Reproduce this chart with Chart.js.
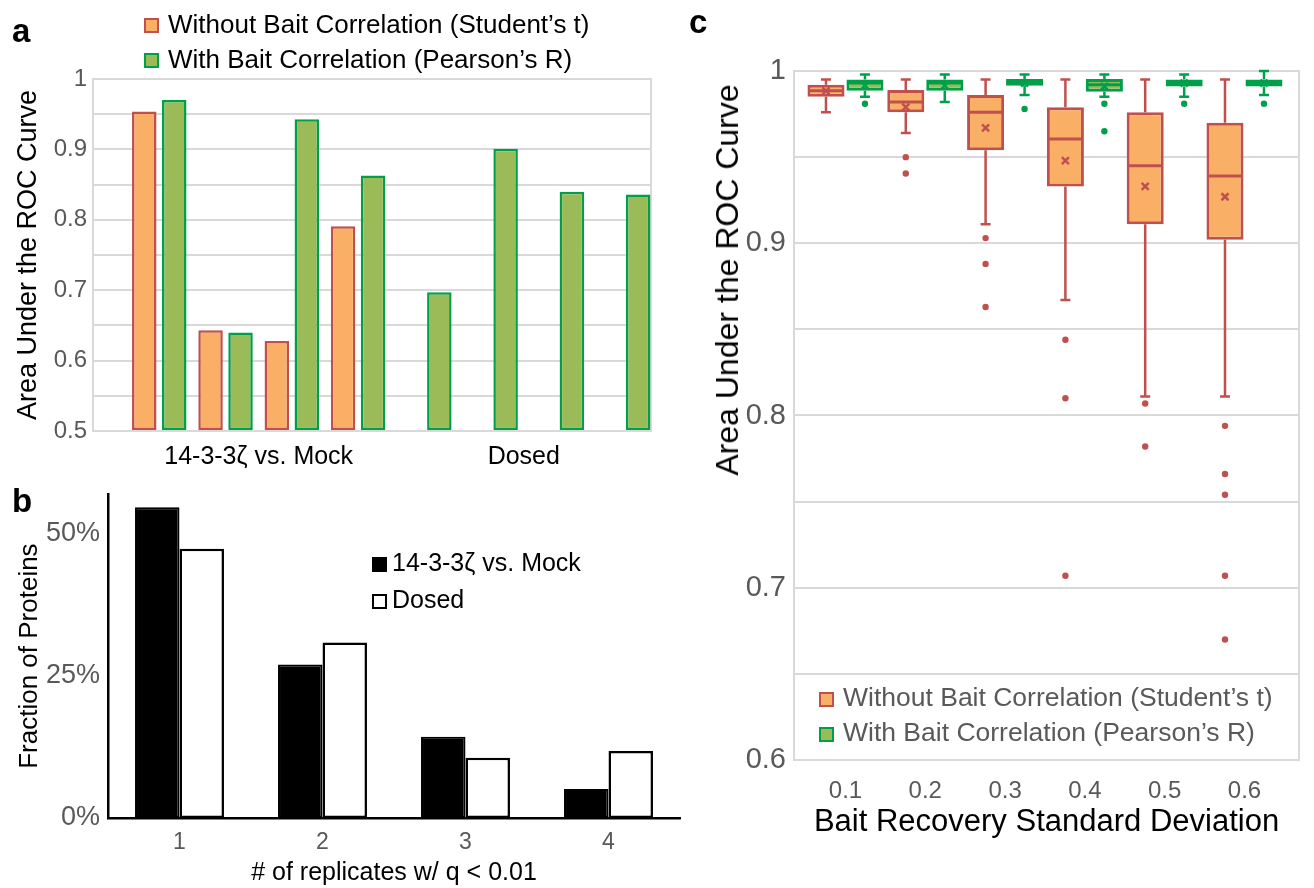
<!DOCTYPE html>
<html>
<head>
<meta charset="utf-8">
<script src="https://cdn.jsdelivr.net/npm/chart.js@4.4.1/dist/chart.umd.min.js"></script>
<style>
    html, body { margin:0; padding:0; background:#fff; }
    body { width:1314px; height:888px; position:relative; overflow:hidden; font-family:"Liberation Sans", Arial, Helvetica, sans-serif; }
    .lienzo { position:absolute; }
    .txt { position:absolute; white-space:nowrap; line-height:1; }
    .cuadro { position:absolute; box-sizing:border-box; }
    .letra { position:absolute; font-weight:bold; font-size:33px; line-height:1; color:#000; }
</style>
</head>
<body>

<div class="lienzo" style="left:0;top:0;width:680px;height:480px"><canvas id="graficoA"></canvas></div>
<div class="lienzo" style="left:0;top:470px;width:690px;height:418px"><canvas id="graficoB"></canvas></div>
<div class="lienzo" style="left:690px;top:0;width:624px;height:888px"><canvas id="graficoC"></canvas></div>

<!-- letras de panel -->
<div class="letra" style="left:12px;top:14px">a</div>
<div class="letra" style="left:12px;top:484px">b</div>
<div class="letra" style="left:689px;top:5px">c</div>

<!-- leyenda panel a -->
<div class="cuadro" style="left:144px;top:18px;width:15px;height:15px;background:#f9b066;border:2px solid #c0504d"></div>
<div class="txt" style="left:168px;top:11px;font-size:26px;color:#000">Without Bait Correlation (Student’s t)</div>
<div class="cuadro" style="left:144px;top:53px;width:15px;height:15px;background:#9bbb59;border:2px solid #00a04b"></div>
<div class="txt" style="left:168px;top:46px;font-size:26px;color:#000">With Bait Correlation (Pearson’s R)</div>

<!-- leyenda panel b -->
<div class="cuadro" style="left:372px;top:557px;width:15px;height:15px;background:#000"></div>
<div class="txt" style="left:392px;top:550px;font-size:25px;color:#000">14-3-3ζ vs. Mock</div>
<div class="cuadro" style="left:372px;top:594px;width:15px;height:15px;background:#fff;border:2.5px solid #000"></div>
<div class="txt" style="left:392px;top:587px;font-size:25px;color:#000">Dosed</div>

<!-- leyenda panel c -->
<div class="cuadro" style="left:819px;top:692px;width:15px;height:15px;background:#f9b066;border:2px solid #c0504d"></div>
<div class="txt" style="left:843px;top:684px;font-size:26.5px;color:#595959">Without Bait Correlation (Student’s t)</div>
<div class="cuadro" style="left:819px;top:727px;width:15px;height:15px;background:#9bbb59;border:2px solid #00a04b"></div>
<div class="txt" style="left:843px;top:719px;font-size:26.5px;color:#595959">With Bait Correlation (Pearson’s R)</div>

<!-- titulo eje y panel c -->
<div class="txt" style="left:727px;top:280px;font-size:32px;color:#000;transform:translate(-50%,-50%) rotate(-90deg)">Area Under the ROC Curve</div>

<script>
// DATOS PANEL A
const gruposA = ['14-3-3ζ vs. Mock', 'Dosed'];
const condicionesPorGrupo = [4, 4];
const aucSinCorrelacion = [0.954, 0.643, 0.628, 0.791, null, null, null, null];
const aucConCorrelacion = [0.970, 0.640, 0.943, 0.863, 0.697, 0.901, 0.840, 0.836];

// DATOS PANEL B
const replicas = ['1', '2', '3', '4'];
const fraccionMock = [54.7, 27.0, 14.3, 5.1];
const fraccionDosed = [47.4, 30.9, 10.6, 11.8];

// DATOS PANEL C
const desviaciones = [0.1, 0.2, 0.3, 0.4, 0.5, 0.6];

const sinMax = [0.995, 0.995, 0.995, 0.995, 0.995, 0.995];
const sinQ3 = [0.992, 0.989, 0.986, 0.979, 0.976, 0.970];
const sinMediana = [0.9885, 0.982, 0.976, 0.9605, 0.945, 0.939];
const sinQ1 = [0.985, 0.976, 0.954, 0.933, 0.911, 0.902];
const sinMin = [0.976, 0.964, 0.911, 0.867, 0.811, 0.811];
const sinMedia = [0.9885, 0.979, 0.967, 0.948, 0.933, 0.927];
const sinAtipicos = [[], [0.950, 0.9405], [0.903, 0.888, 0.863], [0.844, 0.810, 0.707], [0.807, 0.782], [0.794, 0.766, 0.754, 0.707, 0.670]];

const conMax = [0.998, 0.998, 0.998, 0.998, 0.998, 1.0];
const conQ3 = [0.995, 0.995, 0.9953, 0.9953, 0.995, 0.995];
const conMediana = [0.993, 0.993, 0.9935, 0.992, 0.993, 0.993];
const conQ1 = [0.9885, 0.9885, 0.9915, 0.988, 0.991, 0.991];
const conMin = [0.985, 0.982, 0.986, 0.985, 0.985, 0.986];
const conMedia = [0.9915, 0.9915, 0.993, 0.991, 0.993, 0.993];
const conAtipicos = [[0.981], [], [0.978], [0.981, 0.965], [0.981], [0.981]];

// COLORES
const NARANJA = '#f9b066';
const ROJO = '#c0504d';
const VERDE_CLARO = '#9bbb59';
const VERDE = '#00a04b';
const GRIS_REJILLA = '#d9d9d9';
const GRIS_TEXTO = '#595959';

Chart.defaults.font.family = '"Liberation Sans", Arial, Helvetica, sans-serif';
Chart.defaults.animation = false;

function etiquetaDecima(v){
    if(Math.abs(v * 10 - Math.round(v * 10)) > 1e-6) return '';
    return String(Math.round(v * 10) / 10);
}

// centros de cada grupo (en indice de condicion)
let centrosGrupo = [];
let inicio = 0;
condicionesPorGrupo.forEach(n => {
    centrosGrupo.push(inicio + (n - 1) / 2);
    inicio += n;
});

// PANEL A
new Chart(document.getElementById('graficoA'), {
    type: 'bar',
    data: {
        datasets: [
            {
                label: 'Without Bait Correlation (Student’s t)',
                data: aucSinCorrelacion.map((v, i) => ({x: i, y: v})),
                backgroundColor: NARANJA,
                borderColor: ROJO,
                borderWidth: 2.5,
                borderSkipped: false,
                base: 0.5,
                categoryPercentage: 0.905,
                barPercentage: 0.817
            },
            {
                label: 'With Bait Correlation (Pearson’s R)',
                data: aucConCorrelacion.map((v, i) => ({x: i, y: v})),
                backgroundColor: VERDE_CLARO,
                borderColor: VERDE,
                borderWidth: 2.5,
                borderSkipped: false,
                base: 0.5,
                categoryPercentage: 0.905,
                barPercentage: 0.817
            }
        ]
    },
    options: {
        responsive: true,
        maintainAspectRatio: false,
        layout: { padding: { left: 0, top: 79, right: 29, bottom: 0 } },
        plugins: { legend: { display: false }, tooltip: { enabled: false } },
        scales: {
            x: {
                type: 'linear',
                offset: false,
                min: -1,
                max: 7.42,
                afterBuildTicks: s => { s.ticks = centrosGrupo.map(v => ({value: v})); },
                afterFit: s => { s.height = 49; },
                grid: { display: false, drawTicks: false },
                border: { color: GRIS_REJILLA, width: 2 },
                ticks: {
                    autoSkip: false, maxRotation: 0, padding: 11, color: '#000',
                    font: { size: 25 },
                    callback: v => {
                        let k = centrosGrupo.indexOf(v);
                        return k >= 0 ? gruposA[k] : '';
                    }
                }
            },
            y: {
                min: 0.5,
                max: 1,
                afterFit: s => { s.width = 93; },
                ticks: { stepSize: 0.05, autoSkip: false, padding: 6, color: GRIS_TEXTO, font: { size: 24 }, callback: etiquetaDecima },
                grid: { color: GRIS_REJILLA, lineWidth: 2, drawTicks: false },
                border: { color: GRIS_REJILLA, width: 2 },
                title: { display: true, text: 'Area Under the ROC Curve', color: '#000', font: { size: 27 }, padding: { top: 12 } }
            },
            yDer: {
                position: 'right',
                min: 0.5,
                max: 1,
                afterFit: s => { s.width = 0; },
                grid: { display: false, drawTicks: false },
                ticks: { display: false },
                border: { color: GRIS_REJILLA, width: 2 }
            }
        }
    }
});

// PANEL B
new Chart(document.getElementById('graficoB'), {
    type: 'bar',
    data: {
        labels: replicas,
        datasets: [
            {
                label: '14-3-3ζ vs. Mock',
                data: fraccionMock,
                backgroundColor: '#000',
                borderColor: '#000',
                borderWidth: 2,
                borderSkipped: false,
                categoryPercentage: 0.622,
                barPercentage: 1
            },
            {
                label: 'Dosed',
                data: fraccionDosed,
                backgroundColor: '#fff',
                borderColor: '#000',
                borderWidth: 2.5,
                borderSkipped: false,
                categoryPercentage: 0.622,
                barPercentage: 1
            }
        ]
    },
    options: {
        responsive: true,
        maintainAspectRatio: false,
        layout: { padding: { left: 0, top: 11, right: 10, bottom: 0 } },
        plugins: { legend: { display: false }, tooltip: { enabled: false } },
        scales: {
            x: {
                afterFit: s => { s.height = 70; },
                grid: { display: false, drawTicks: false },
                border: { color: '#000', width: 2.5 },
                ticks: { padding: 11, color: GRIS_TEXTO, font: { size: 23 } },
                title: { display: true, text: '# of replicates w/ q < 0.01', color: '#000', font: { size: 25 }, padding: { bottom: 0 } }
            },
            y: {
                min: 0,
                max: 57,
                afterFit: s => { s.width = 108; },
                afterBuildTicks: s => { s.ticks = s.ticks.filter(t => t.value % 25 === 0); },
                ticks: { stepSize: 25, autoSkip: false, padding: 8, color: GRIS_TEXTO, font: { size: 27 }, callback: v => v + '%' },
                grid: { display: false, drawTicks: false },
                border: { color: '#000', width: 2.5 },
                title: { display: true, text: 'Fraction of Proteins', color: '#000', font: { size: 26 }, padding: { top: 14 } }
            }
        }
    }
});

// PANEL C: bigotes, medianas, medias y atipicos sobre las cajas
const estadisticas = [
    { max: sinMax, mediana: sinMediana, min: sinMin, media: sinMedia, atipicos: sinAtipicos, color: ROJO },
    { max: conMax, mediana: conMediana, min: conMin, media: conMedia, atipicos: conAtipicos, color: VERDE }
];

const pluginCajas = {
    id: 'cajasBigotes',
    afterDatasetsDraw(chart){
        const ctx = chart.ctx;
        const y = chart.scales.y;
        estadisticas.forEach((st, d) => {
            const meta = chart.getDatasetMeta(d);
            meta.data.forEach((el, i) => {
                const x = el.x;
                const mitad = el.width / 2;
                const yQ3 = Math.min(el.y, el.base);
                const yQ1 = Math.max(el.y, el.base);
                ctx.save();
                ctx.strokeStyle = st.color;
                ctx.fillStyle = st.color;
                ctx.lineWidth = 2.5;
                // bigotes
                ctx.beginPath();
                ctx.moveTo(x, y.getPixelForValue(st.max[i]));
                ctx.lineTo(x, yQ3);
                ctx.moveTo(x, yQ1);
                ctx.lineTo(x, y.getPixelForValue(st.min[i]));
                ctx.moveTo(x - 5, y.getPixelForValue(st.max[i]));
                ctx.lineTo(x + 5, y.getPixelForValue(st.max[i]));
                ctx.moveTo(x - 5, y.getPixelForValue(st.min[i]));
                ctx.lineTo(x + 5, y.getPixelForValue(st.min[i]));
                ctx.stroke();
                // mediana
                ctx.lineWidth = 3;
                ctx.beginPath();
                ctx.moveTo(x - mitad + 1.5, y.getPixelForValue(st.mediana[i]));
                ctx.lineTo(x + mitad - 1.5, y.getPixelForValue(st.mediana[i]));
                ctx.stroke();
                // media (x)
                const ym = y.getPixelForValue(st.media[i]);
                ctx.lineWidth = 2.5;
                ctx.beginPath();
                ctx.moveTo(x - 3.5, ym - 3.5);
                ctx.lineTo(x + 3.5, ym + 3.5);
                ctx.moveTo(x + 3.5, ym - 3.5);
                ctx.lineTo(x - 3.5, ym + 3.5);
                ctx.stroke();
                // atipicos
                st.atipicos[i].forEach(v => {
                    ctx.beginPath();
                    ctx.arc(x, y.getPixelForValue(v), 3.2, 0, Math.PI * 2);
                    ctx.fill();
                });
                ctx.restore();
            });
        });
    }
};

new Chart(document.getElementById('graficoC'), {
    type: 'bar',
    data: {
        datasets: [
            {
                label: 'Without Bait Correlation (Student’s t)',
                data: desviaciones.map((sd, i) => ({x: sd, y: [sinQ1[i], sinQ3[i]]})),
                backgroundColor: NARANJA,
                borderColor: ROJO,
                borderWidth: 3,
                borderSkipped: false,
                categoryPercentage: 0.977,
                barPercentage: 0.95
            },
            {
                label: 'With Bait Correlation (Pearson’s R)',
                data: desviaciones.map((sd, i) => ({x: sd, y: [conQ1[i], conQ3[i]]})),
                backgroundColor: VERDE_CLARO,
                borderColor: VERDE,
                borderWidth: 3,
                borderSkipped: false,
                categoryPercentage: 0.977,
                barPercentage: 0.95
            }
        ]
    },
    options: {
        responsive: true,
        maintainAspectRatio: false,
        layout: { padding: { left: 0, top: 71, right: 15, bottom: 0 } },
        plugins: { legend: { display: false }, tooltip: { enabled: false } },
        scales: {
            x: {
                type: 'linear',
                offset: false,
                min: 0.0355,
                max: 0.6683,
                afterBuildTicks: s => { s.ticks = desviaciones.map(v => ({value: v})); },
                afterFit: s => { s.height = 128; },
                grid: { display: false, drawTicks: false },
                border: { color: GRIS_REJILLA, width: 2 },
                ticks: { autoSkip: false, maxRotation: 0, padding: 17, color: GRIS_TEXTO, font: { size: 24 }, callback: v => v.toFixed(1) },
                title: { display: true, text: 'Bait Recovery Standard Deviation', color: '#000', font: { size: 31 }, padding: { bottom: 47 } }
            },
            y: {
                min: 0.6,
                max: 1,
                afterFit: s => { s.width = 104; },
                ticks: { stepSize: 0.05, autoSkip: false, padding: 8, color: GRIS_TEXTO, font: { size: 29 }, callback: etiquetaDecima },
                grid: { color: GRIS_REJILLA, lineWidth: 2, drawTicks: false },
                border: { color: GRIS_REJILLA, width: 2 }
            },
            yDer: {
                position: 'right',
                min: 0.6,
                max: 1,
                afterFit: s => { s.width = 0; },
                grid: { display: false, drawTicks: false },
                ticks: { display: false },
                border: { color: GRIS_REJILLA, width: 2 }
            }
        }
    },
    plugins: [pluginCajas]
});
</script>
</body>
</html>
